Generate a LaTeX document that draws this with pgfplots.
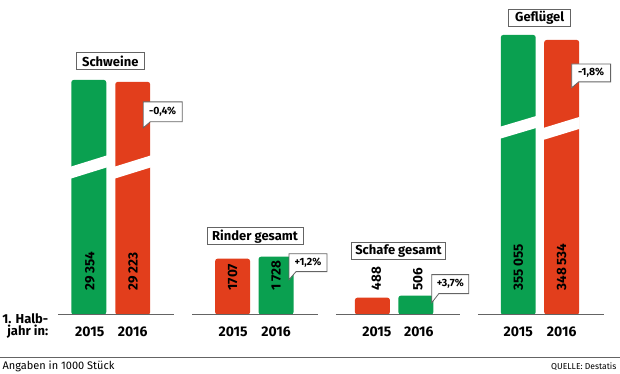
\documentclass[border=0pt]{standalone}
\usepackage{pgfplots}
\pgfplotsset{compat=1.18}
\usepackage{fontspec}
\setmainfont{Fira Sans}
\definecolor{bgreen}{RGB}{10,160,80}
\definecolor{bred}{RGB}{226,62,28}
\definecolor{lgray}{RGB}{100,100,100}
\newcommand{\fs}[1]{\fontsize{#1}{#1}\selectfont}
\begin{document}
\begin{tikzpicture}
\begin{axis}[
  hide axis, scale only axis, width=620pt, height=374pt,
  xmin=0, xmax=620, ymin=-59, ymax=315, clip=false,
  ybar, bar width=35, bar shift=0pt,
]
% green bars (Schweine 2015, Rinder 2016, Schafe 2016, Gefluegel 2015) -- heights as drawn (broken bars)
\addplot[fill=bgreen, draw=none, rounded corners=2.5pt] coordinates {(88.5,235) (276,58) (416,19) (518.5,280)};
% red bars (Schweine 2016, Rinder 2015, Schafe 2015, Gefluegel 2016)
\addplot[fill=bred, draw=none, rounded corners=2.5pt] coordinates {(132.5,233) (232.5,56) (372.5,17) (562,275)};

% breaks
\fill[white] (70,148) -- (107,159.5) -- (107,147.5) -- (70,136) -- cycle;
\fill[white] (114,148) -- (151,159.5) -- (151,147.5) -- (114,136) -- cycle;
\fill[white] (500,188) -- (537,199) -- (537,187) -- (500,176) -- cycle;
\fill[white] (544,187) -- (580,198) -- (580,186) -- (544,175) -- cycle;

% baselines
\draw[lgray, line width=1.5pt] (58,0) -- (174,0);
\draw[lgray, line width=1.5pt] (192,0) -- (318,0);
\draw[lgray, line width=1.5pt] (336,0) -- (460,0);
\draw[lgray, line width=1.5pt] (478,0) -- (604,0);

% value labels
\begin{scope}[every node/.style={rotate=90, anchor=west, inner sep=0pt, font=\bfseries\fs{13.5}}]
\node at (89.5,24) {29\,354};
\node at (133,24) {29\,223};
\node at (232.5,24) {1707};
\node at (276,24) {1\,728};
\node at (376.5,24) {488};
\node at (418,24) {506};
\node at (518.5,24) {355\,055};
\node at (562,24) {348\,534};
\end{scope}

% category boxes
\begin{scope}[every node/.style={draw=lgray, fill=white, line width=0.8pt, inner sep=0pt, minimum height=17pt, font=\bfseries\fs{13}}]
\node[minimum width=68pt] at (110,254) {Schweine};
\node[minimum width=96pt] at (255,78.5) {Rinder gesamt};
\node[minimum width=95pt] at (398.5,64) {Schafe gesamt};
\node[minimum width=62pt] at (540,297) {Geflügel};
\end{scope}

% callouts
\filldraw[fill=white, draw=lgray, line width=0.8pt] (143,213) -- (182,213) -- (182,193) -- (150,193) -- (143,187) -- cycle;
\node[font=\bfseries\fs{10.5}, inner sep=0pt] at (162.5,203) {-0,4\%};
\filldraw[fill=white, draw=lgray, line width=0.8pt] (289,61) -- (327,61) -- (327,43) -- (296,43) -- (289,35) -- cycle;
\node[font=\bfseries\fs{10.5}, inner sep=0pt] at (308,52) {+1,2\%};
\filldraw[fill=white, draw=lgray, line width=0.8pt] (432,40) -- (469,40) -- (469,21) -- (439,21) -- (432,12) -- cycle;
\node[font=\bfseries\fs{10.5}, inner sep=0pt] at (450.5,30.5) {+3,7\%};
\filldraw[fill=white, draw=lgray, line width=0.8pt] (572,251) -- (611,251) -- (611,233) -- (579,233) -- (572,227) -- cycle;
\node[font=\bfseries\fs{10.5}, inner sep=0pt] at (591.5,242) {-1,8\%};

% years
\begin{scope}[every node/.style={inner sep=0pt, font=\bfseries\fs{14}}]
\node at (89.5,-17) {2015};
\node at (132.5,-17) {2016};
\node at (233,-17) {2015};
\node at (276,-17) {2016};
\node at (377,-17) {2015};
\node at (419,-17) {2016};
\node at (518.5,-17) {2015};
\node at (562,-17) {2016};
\end{scope}
\node[anchor=east, align=right, inner sep=0pt, font=\bfseries\fs{13}] at (48,-11) {1. Halb-\\[-1pt]jahr in:};

% footer
\draw[lgray, line width=0.8pt] (0,-43) -- (620,-43);
\node[anchor=west, inner sep=0pt, font=\fs{11}] at (2,-52) {Angaben in 1000 Stück};
\node[anchor=east, inner sep=0pt, font=\fs{8.6}] at (617,-52) {QUELLE: Destatis};
\path (rel axis cs:0,0) rectangle (rel axis cs:1,1);
\end{axis}
\end{tikzpicture}
\end{document}
